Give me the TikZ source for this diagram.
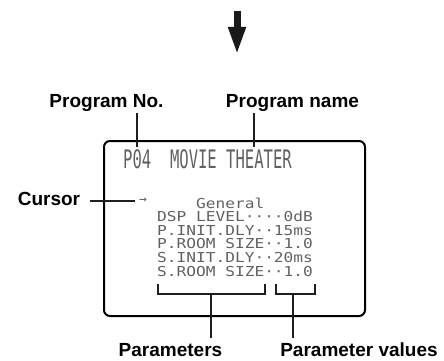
\documentclass[tikz,border=0pt]{standalone}
\usepackage{fontspec}
\setsansfont{Liberation Sans}
\newfontfamily\lcdfont{DejaVu Sans Mono}
\usetikzlibrary{arrows.meta,positioning}

\begin{document}
\begin{tikzpicture}[x=1pt,y=-1pt,
  tag/.style={font=\sffamily\bfseries\fontsize{19}{19}\selectfont,anchor=base,inner sep=0pt},
  lcd/.style={font=\lcdfont\fontsize{13.7}{13.7}\selectfont,text=black!62,anchor=base west,inner sep=0pt},
  leader/.style={line width=2pt,black!88}]
\useasboundingbox (0,0) rectangle (444,361);

% arrow from the previous step
\coordinate (arrtop) at (237,11);
\coordinate (arrtip) at (237,55);
\draw[line width=7pt,black!90,-{Triangle[length=28pt,width=16pt]}] (arrtop) -- (arrtip);

% display frame
\node[draw,line width=2pt,rounded corners=6pt,minimum width=261pt,minimum height=175pt,inner sep=0pt] (screen) at (234.5,228.5) {};

% display contents
\node[lcd,font=\lcdfont\fontsize{25.5}{25.5}\selectfont] (title) at (123,168) {\scalebox{0.61}[1]{P04\ \ MOVIE THEATER}};
\node[lcd,anchor=center,font=\lcdfont\fontsize{13}{13}\selectfont] (arrowmark) at (143,201) {→};
\node[lcd] (general) at (196,208) {\scalebox{1.18}[1]{General}};
\foreach \txt [count=\i] in {DSP LEVEL····0dB,P.INIT.DLY··15ms,P.ROOM SIZE··1.0,S.INIT.DLY··20ms,S.ROOM SIZE··1.0}{
  \node[lcd] (row\i) at (157,{208+13.6*\i}) {\scalebox{1.18}[1]{\txt}};
}

% brackets
\coordinate (parB) at (211,294);
\coordinate (valB) at (293,294);
\draw[leader] (158,284) -- (158,294) -- (265,294) -- (265,284);
\draw[leader] (276,284) -- (276,294) -- (315,294) -- (315,284);

% labels
\node[tag] (progno) at (106.5,107) {Program No.};
\node[tag] (progname) at (292.5,107) {Program name};
\node[tag] (cursorlab) at (49,205) {Cursor};
\node[tag] (params) at (170.5,356) {Parameters};
\node[tag] (values) at (359,356) {Parameter values};

% leader lines
\coordinate (noTop) at (137,113);
\coordinate (noBot) at (137,147);
\coordinate (nameTop) at (254,113);
\coordinate (nameBot) at (254,147);
\coordinate (curL) at (90,201);
\coordinate (curR) at (135,201);
\coordinate (parE) at (211,338);
\coordinate (valE) at (293,338);
\draw[leader] (noTop) -- (noBot);
\draw[leader] (nameTop) -- (nameBot);
\draw[leader] (curL) -- (curR);
\draw[leader] (parB) -- (parE);
\draw[leader] (valB) -- (valE);
\end{tikzpicture}
\end{document}
